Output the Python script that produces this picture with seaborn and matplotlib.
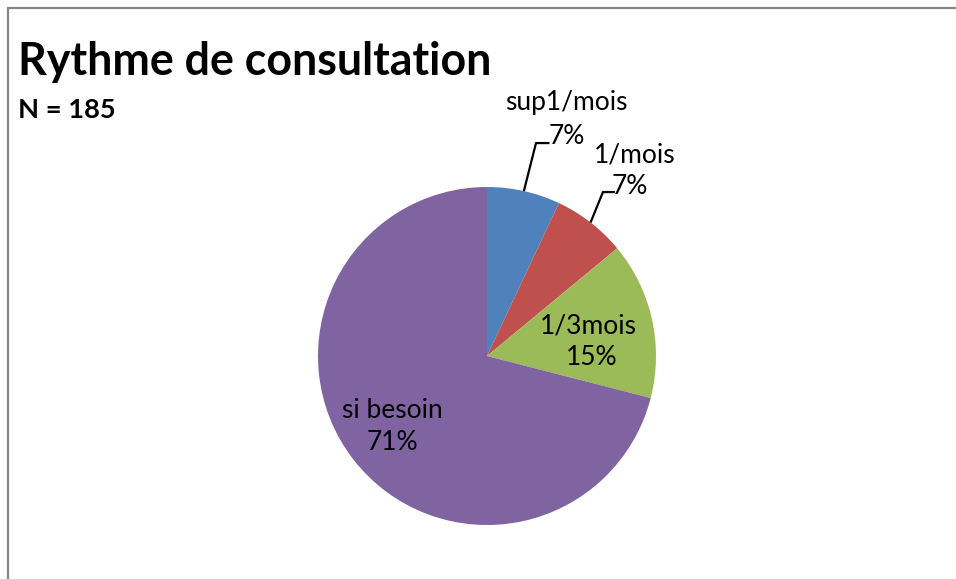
import matplotlib
matplotlib.use("Agg")
import matplotlib.pyplot as plt
import seaborn as sns
import numpy as np
from matplotlib.lines import Line2D

categories = ["sup1/mois", "1/mois", "1/3mois", "si besoin"]
values = [7, 7, 15, 71]
pct_labels = ["7%", "7%", "15%", "71%"]
colors = ["#4F81BD", "#C0504D", "#9BBB59", "#8064A2"]
title = "Rythme de consultation"
subtitle = "N = 185"

sns.set_theme(style="white")
plt.rcParams['font.family'] = ['Lato', 'DejaVu Sans']
plt.rcParams['text.color'] = 'black'

W, H = 956, 579
fig = plt.figure(figsize=(W / 100, H / 100), dpi=100)
fig.patch.set_facecolor("white")

cx, cy, r = 487, 356, 169
ax = fig.add_axes([(cx - r) / W, (H - cy - r) / H, 2 * r / W, 2 * r / H])
ax.pie(values, colors=colors, startangle=90, counterclock=False,
       wedgeprops=dict(linewidth=0))
ax.set_xlim(-1, 1)
ax.set_ylim(-1, 1)
ax.set_axis_off()

fs = 19
outer = {
    0: dict(bend=(0.29, 1.26), end=(0.37, 1.26), name=(0.47, 1.50), pct=(0.47, 1.30)),
    1: dict(bend=(0.686, 0.970), end=(0.757, 0.970), name=(0.876, 1.19), pct=(0.846, 1.0)),
}
cum = np.cumsum([0] + values)
total = sum(values)
for i, o in outer.items():
    mid = (cum[i] + cum[i + 1]) / 2 / total * 2 * np.pi
    sx, sy = np.sin(mid), np.cos(mid)
    ax.plot([sx, o["bend"][0], o["end"][0]], [sy, o["bend"][1], o["end"][1]],
            color="black", lw=1.6, clip_on=False, solid_capstyle="butt")
    ax.text(*o["name"], categories[i], ha="center", va="center", fontsize=fs,
            color="black", clip_on=False)
    ax.text(*o["pct"], pct_labels[i], ha="center", va="center", fontsize=fs,
            color="black", clip_on=False)

inner = {2: [(0.598, 0.178), (0.62, -0.006)], 3: [(-0.562, -0.320), (-0.562, -0.509)]}
for i, (p1, p2) in inner.items():
    ax.text(*p1, categories[i], ha="center", va="center", fontsize=fs, color="black")
    ax.text(*p2, pct_labels[i], ha="center", va="center", fontsize=fs, color="black")

fig.text(18 / W, 1 - 62 / H, title, fontsize=32.2, fontweight="bold", ha="left",
         va="center", color="black")
fig.text(18 / W, 1 - 110 / H, subtitle, fontsize=19.6, fontweight="bold", ha="left",
         va="center", color="black")

fig.add_artist(Line2D([7.5 / W, 1], [1 - 7.5 / H, 1 - 7.5 / H], transform=fig.transFigure,
                      color="#868686", lw=1.6))
fig.add_artist(Line2D([7.5 / W, 7.5 / W], [0, 1 - 7.5 / H], transform=fig.transFigure,
                      color="#868686", lw=1.6))

fig.savefig("out.png", dpi=100, facecolor="white")
